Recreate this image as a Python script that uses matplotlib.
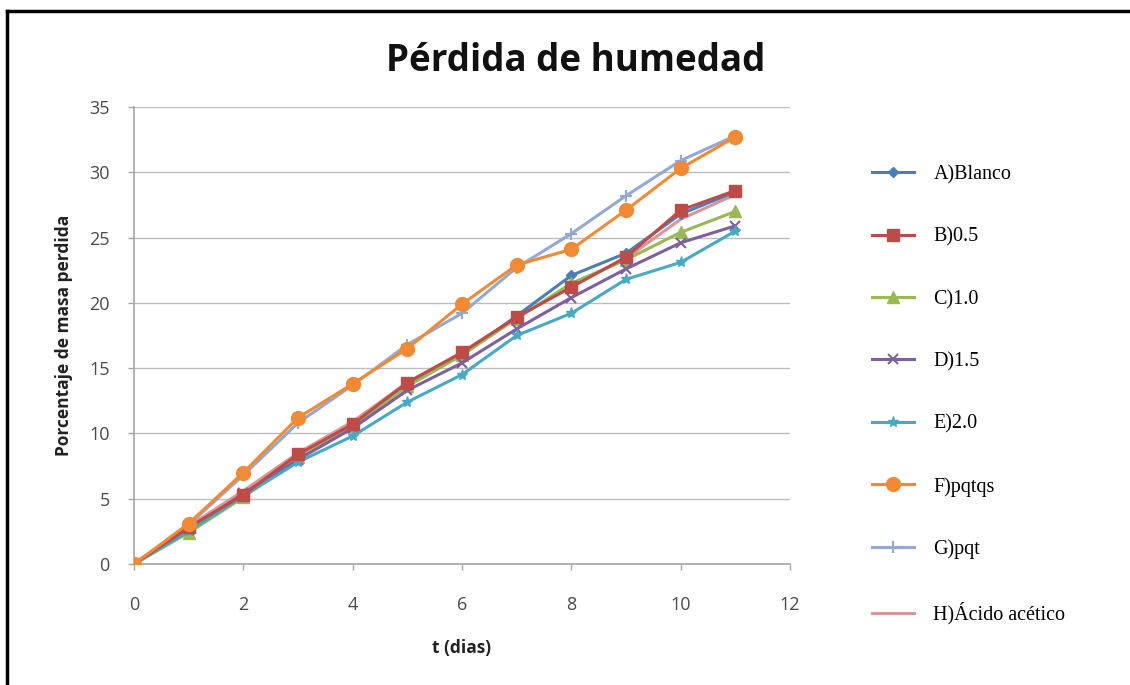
import matplotlib
matplotlib.use("Agg")
import matplotlib.pyplot as plt
from matplotlib.lines import Line2D

dias = [0, 1, 2, 3, 4, 5, 6, 7, 8, 9, 10, 11]
A_blanco = [0, 2.5, 5.2, 8.3, 10.5, 13.8, 16.0, 19.0, 22.1, 23.8, 26.8, 28.5]
B_05 = [0, 2.8, 5.3, 8.4, 10.7, 13.9, 16.2, 18.9, 21.2, 23.5, 27.1, 28.6]
C_10 = [0, 2.4, 5.1, 8.2, 10.6, 13.6, 16.0, 18.8, 21.5, 23.3, 25.4, 27.0]
D_15 = [0, 2.6, 5.4, 8.0, 10.4, 13.3, 15.4, 18.0, 20.4, 22.6, 24.6, 25.9]
E_20 = [0, 2.5, 5.2, 7.8, 9.8, 12.4, 14.5, 17.5, 19.2, 21.8, 23.1, 25.5]
F_pqtqs = [0, 3.1, 7.0, 11.2, 13.8, 16.5, 19.9, 22.9, 24.1, 27.1, 30.3, 32.7]
G_pqt = [0, 3.0, 6.8, 10.8, 13.7, 16.8, 19.2, 22.7, 25.3, 28.2, 30.9, 32.8]
H_acido = [0, 2.9, 5.6, 8.5, 10.9, 13.9, 16.2, 18.9, 21.3, 23.4, 26.4, 28.3]

nombres = ["A)Blanco", "B)0.5", "C)1.0", "D)1.5", "E)2.0", "F)pqtqs", "G)pqt", "H)Ácido acético"]
series = [A_blanco, B_05, C_10, D_15, E_20, F_pqtqs, G_pqt, H_acido]
colores = ["#4A7EBB", "#BE4B48", "#98B954", "#7D60A0", "#46AAC5", "#F28A34", "#92A9D6", "#D99694"]
marcadores = ["D", "s", "^", "x", "*", "o", "+", None]
tamanos = [5, 9, 8, 7, 8, 10, 9, 0]
orden_z = [3, 4, 3, 3, 3, 4, 3, 2]

xticks = [0, 2, 4, 6, 8, 10, 12]
yticks = [0, 5, 10, 15, 20, 25, 30, 35]

W, H = 1130, 685
fig = plt.figure(figsize=(W / 100, H / 100), dpi=100)
fig.patch.set_facecolor("white")

# outer black frame (top and left visible)
fig.add_artist(Line2D([7 / W, 1.0], [1 - 11 / H, 1 - 11 / H], color="black", lw=2.5, transform=fig.transFigure))
fig.add_artist(Line2D([7 / W, 7 / W], [0, 1 - 11 / H], color="black", lw=2.5, transform=fig.transFigure))

left, right, top, bottom = 134, 790, 107, 564
ax = fig.add_axes([left / W, 1 - bottom / H, (right - left) / W, (bottom - top) / H])

for ys, nom, c, m, ms, z in zip(series, nombres, colores, marcadores, tamanos, orden_z):
    mew = 1.5 if m in ("x", "+") else 1
    ax.plot(dias, ys, color=c, lw=2.2, marker=m, markersize=ms, markeredgewidth=mew,
            markeredgecolor=c, markerfacecolor=c, label=nom, zorder=z)

ax.set_xlim(0, 12)
ax.set_ylim(0, 35)
ax.set_xticks(xticks)
ax.set_yticks(yticks)
ax.grid(axis="y", color="#BDBDBD", lw=1)
ax.set_axisbelow(True)
for s in ["top", "right"]:
    ax.spines[s].set_visible(False)
for s in ["left", "bottom"]:
    ax.spines[s].set_color("#A6A6A6")
    ax.spines[s].set_linewidth(1.2)
ax.tick_params(axis="both", colors="#A6A6A6", length=4, width=1, labelcolor="#4A4A4A", labelsize=13)
ax.tick_params(axis="x", pad=19)
ax.tick_params(axis="y", pad=13.5)
for lab in ax.get_xticklabels() + ax.get_yticklabels():
    lab.set_family("Open Sans")

ax.set_xlabel("t (dias)", fontsize=12.5, fontweight="bold", family="Open Sans", labelpad=18, color="#222222")
ax.set_ylabel("Porcentaje de masa perdida", fontsize=12.5, fontweight="bold", family="Open Sans", labelpad=12, color="#222222")

fig.text(576 / W, 1 - 61 / H, "Pérdida de humedad", ha="center", va="center",
         fontsize=26.5, fontweight="bold", family="Open Sans", color="#111111")

leg = ax.legend(loc="upper left", bbox_to_anchor=(862 / W, 1 - 155 / H), bbox_transform=fig.transFigure,
                frameon=False, prop={"family": "Liberation Serif", "size": 14.5},
                labelspacing=2.14, handlelength=2.1, handletextpad=0.95, borderpad=0)

fig.savefig("out.png", dpi=100, facecolor="white")
